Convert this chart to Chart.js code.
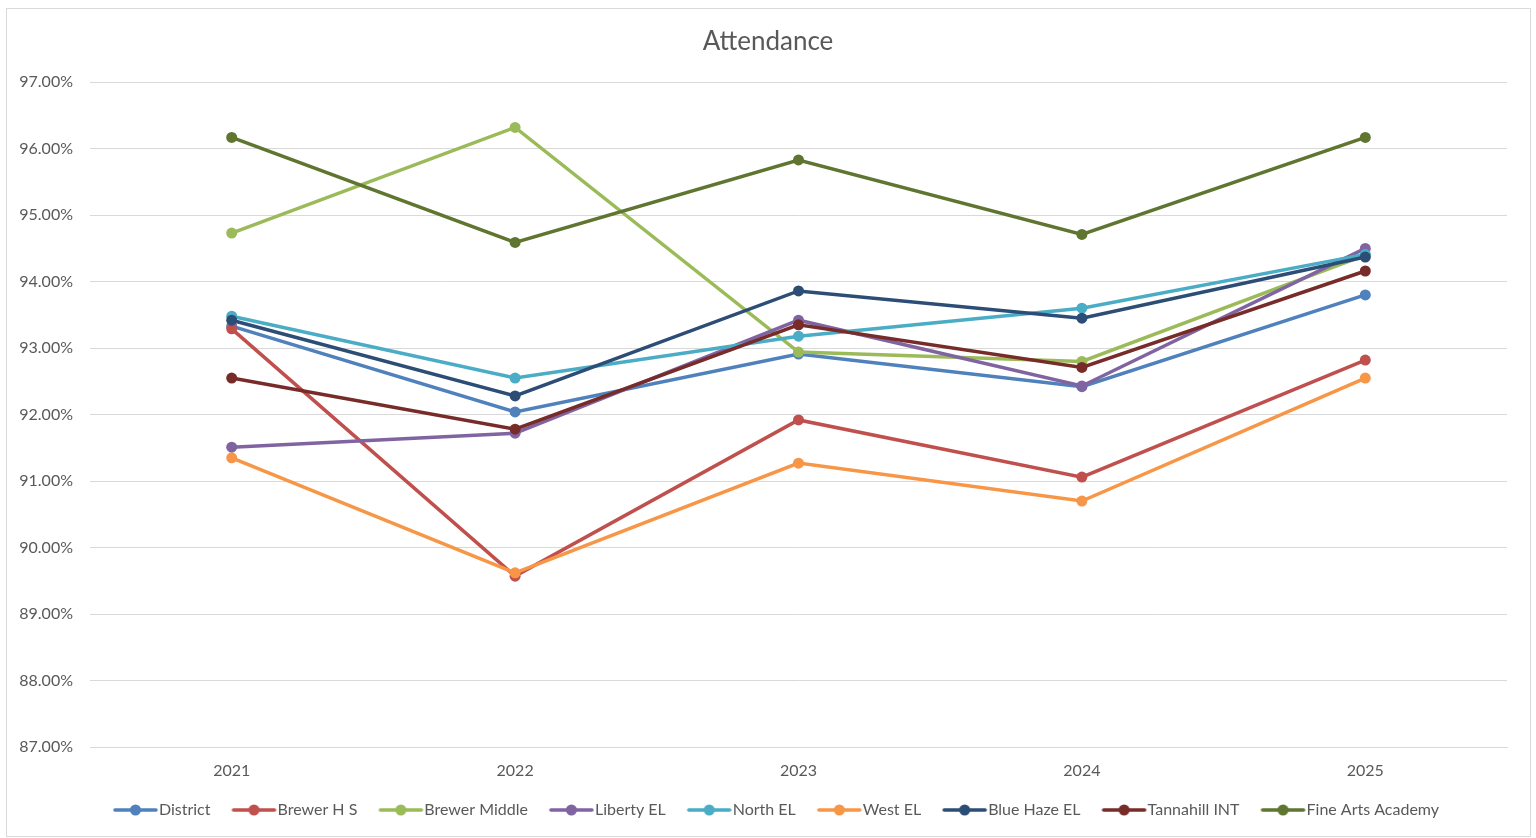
<!DOCTYPE html>
<html>
<head>
<meta charset="utf-8">
<script src="https://cdn.jsdelivr.net/npm/chart.js@4.4.1/dist/chart.umd.min.js"></script>
<style>
  html, body { margin: 0; padding: 0; background: #fff; }
  #wrap { position: relative; width: 1536px; height: 838px; }
  #frame { position: absolute; left: 6px; top: 8px; width: 1523px; height: 827px; border: 1px solid #d9d9d9; pointer-events: none; }
  canvas { position: absolute; left: 0; top: 0; }
</style>
</head>
<body>
<div id="wrap">
  <canvas id="c" width="1536" height="838"></canvas>
  <div id="frame"></div>
</div>
<script>
const years = ['2021', '2022', '2023', '2024', '2025'];
const seriesNames = ['District', 'Brewer H S', 'Brewer Middle', 'Liberty EL', 'North EL', 'West EL', 'Blue Haze EL', 'Tannahill INT', 'Fine Arts Academy'];
const district      = [93.33, 92.04, 92.91, 92.42, 93.80];
const brewerHS      = [93.29, 89.57, 91.92, 91.06, 92.82];
const brewerMiddle  = [94.73, 96.32, 92.94, 92.80, 94.40];
const libertyEL     = [91.51, 91.72, 93.42, 92.43, 94.50];
const northEL       = [93.48, 92.55, 93.18, 93.60, 94.41];
const westEL        = [91.35, 89.62, 91.27, 90.70, 92.55];
const blueHazeEL    = [93.42, 92.28, 93.86, 93.45, 94.37];
const tannahillINT  = [92.55, 91.78, 93.35, 92.71, 94.16];
const fineArts      = [96.17, 94.59, 95.83, 94.71, 96.17];
const colors = ['#4F81BD', '#C0504D', '#9BBB59', '#8064A2', '#4BACC6', '#F79646', '#2C4D75', '#772C2A', '#5F7530'];
const seriesValues = [district, brewerHS, brewerMiddle, libertyEL, northEL, westEL, blueHazeEL, tannahillINT, fineArts];
const yMin = 87, yMax = 97, yStep = 1;

function markerImage(color) {
  const cv = document.createElement('canvas');
  cv.width = 70; cv.height = 12;
  const g = cv.getContext('2d');
  g.strokeStyle = color; g.lineWidth = 3.5; g.lineCap = 'round';
  g.beginPath(); g.moveTo(26, 6); g.lineTo(67, 6); g.stroke();
  g.fillStyle = color;
  g.beginPath(); g.arc(46.5, 6, 5.5, 0, Math.PI * 2); g.fill();
  return cv;
}

const n = seriesNames.length;
const datasets = seriesNames.map((name, i) => ({
  label: name,
  data: seriesValues[i],
  borderColor: colors[i],
  backgroundColor: colors[i],
  pointBackgroundColor: colors[i],
  pointBorderColor: colors[i],
  pointRadius: 5.5,
  pointBorderWidth: 0,
  borderWidth: 3.5,
  tension: 0,
  order: n - i,
  pointStyle: 'circle',
  legendImg: markerImage(colors[i])
}));

new Chart(document.getElementById('c'), {
  type: 'line',
  data: { labels: years, datasets },
  options: {
    responsive: false,
    animation: false,
    layout: { padding: { left: 0, right: 0, top: 0, bottom: 10 } },
    plugins: {
      tooltip: { enabled: false },
      title: {
        display: true,
        text: 'Attendance',
        color: '#595959',
        font: { family: 'Lato', size: 26, weight: 'normal', lineHeight: 1.2 },
        padding: { top: 26, bottom: 25 }
      },
      legend: {
        position: 'bottom',
        labels: {
          usePointStyle: true,
          pointStyleWidth: 54,
          padding: 5,
          color: '#595959',
          font: { family: 'Lato', size: 16 },
          generateLabels(chart) {
            return chart.data.datasets.map((ds, i) => ({
              text: ds.label,
              fillStyle: ds.borderColor,
              strokeStyle: ds.borderColor,
              lineWidth: 0,
              pointStyle: ds.legendImg,
              hidden: false,
              datasetIndex: i,
              fontColor: '#595959'
            }));
          }
        }
      }
    },
    scales: {
      x: {
        offset: true,
        afterFit(scale) { scale.height = 50; },
        grid: { display: false, drawTicks: false },
        border: { display: true, color: '#d9d9d9', width: 1 },
        ticks: { color: '#595959', font: { family: 'Lato', size: 16 }, padding: 14 }
      },
      y: {
        min: yMin, max: yMax,
        afterFit(scale) { scale.width = 90; },
        grid: { color: '#d9d9d9', lineWidth: 1, drawTicks: false },
        border: { display: false },
        ticks: {
          stepSize: yStep,
          color: '#595959',
          font: { family: 'Lato', size: 16 },
          padding: 17,
          callback: v => v.toFixed(2) + '%'
        }
      },
      yRight: {
        position: 'right',
        display: true,
        afterFit(scale) { scale.width = 29; },
        grid: { display: false, drawTicks: false },
        border: { display: false },
        ticks: { display: false }
      }
    }
  }
});
</script>
</body>
</html>
